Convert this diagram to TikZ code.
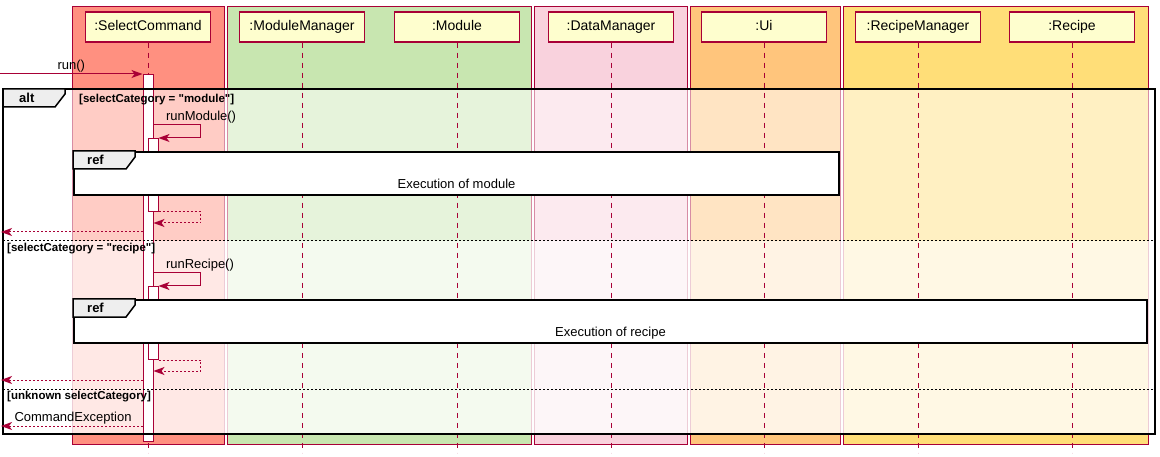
\documentclass[tikz,border=0pt]{standalone}
\usepackage{fontspec}
\setmainfont{Liberation Sans}
\usetikzlibrary{arrows.meta}

\definecolor{umlred}{HTML}{A80036}
\definecolor{umlyellow}{HTML}{FEFECE}
\definecolor{boxA}{HTML}{FF9080}
\definecolor{boxB}{HTML}{C8E6B0}
\definecolor{boxC}{HTML}{F9D2DD}
\definecolor{boxD}{HTML}{FFC57C}
\definecolor{boxE}{HTML}{FFDE78}
\definecolor{tabgray}{HTML}{EEEEEE}

\begin{document}
\begin{tikzpicture}[x=1pt,y=-1pt,>={Stealth[length=11pt,width=8pt,inset=3pt]},
	part/.style={
		draw=umlred, % participant heads
		fill=umlyellow,
		line width=1.5pt,
		minimum width=125pt,
		minimum height=30pt,
		inner sep=0pt,
		text height=10pt,
		text depth=3pt,
		font=\fontsize{14}{16}\selectfont,
	},
	lane/.style={draw=umlred,line width=0.8pt},
	life/.style={draw=umlred,line width=1pt,dash pattern=on 5pt off 5pt},
	act/.style={draw=umlred,fill=white,line width=1pt,minimum width=10pt,inner sep=0pt,anchor=north},
	msg/.style={->,draw=umlred,line width=1pt},
	ret/.style={msg,dash pattern=on 2pt off 2pt},
	lbl/.style={font=\fontsize{13}{15}\selectfont,inner sep=1pt},
	hdr/.style={font=\bfseries\fontsize{11.5}{13}\selectfont,inner sep=0pt},
	tabtxt/.style={font=\bfseries\fontsize{13}{15}\selectfont,inner sep=0pt,anchor=west},
	frame/.style={draw=black,line width=2pt},
	tab/.style={draw=black,fill=tabgray,line width=1.5pt,line join=miter},
	refbox/.style={draw=black,fill=white,line width=2pt,anchor=north west,inner sep=0pt},
	elseline/.style={draw=black,line width=1pt,dash pattern=on 2pt off 2pt},
]
	\useasboundingbox (0,0) rectangle (1160,457);

	% coloured boxes
	\foreach \a/\b/\c in {72/224/boxA,227/531/boxB,534/687/boxC,690/840/boxD,843/1148/boxE}{
		\draw[lane,fill=\c] (\a,6) rectangle (\b,444);
	}

	\coordinate (alttop) at (3,89);
	\coordinate (e1) at (3,241);
	\coordinate (e2) at (3,389);
	\coordinate (altend) at (1155,434);
	\fill[white,opacity=.55] (alttop) rectangle (altend |- e1);
	\fill[white,opacity=.8] (e1) rectangle (altend);

	% participants and lifelines
	\foreach \n/\x/\t in {sc/148/SelectCommand,mm/302/ModuleManager,mod/457/Module,
		dm/611/DataManager,ui/764/Ui,rm/918/RecipeManager,rec/1072/Recipe}{
		\node[part] (\n) at (\x,27) {:\t};
		\draw[life] (\n.south) -- ++(0,410);
	}

	\node[act,minimum height=367pt] (a0) at (148,74) {};
	\node[act,minimum height=73pt] (a1) at (153,138) {};
	\node[act,minimum height=73pt] (a2) at (153,286) {};

	% ref frames
	\node[refbox,minimum width=765pt,minimum height=43pt] (ref1) at (73,151) {};
	\node[refbox,minimum width=1073pt,minimum height=43pt] (ref2) at (73,299) {};
	\foreach \r/\t in {ref1/Execution of module,ref2/Execution of recipe}{
		\draw[tab] (\r.north west) -- ++(62,0) -- ++(0,6) -- ++(-9,12) -- ++(-53,0) -- cycle;
		\node[tabtxt] at ([xshift=14pt,yshift=-9pt]\r.north west) {ref};
		\node[lbl,anchor=base] at ([yshift=7pt]\r.south) {\t};
	}

	% alt frame
	\draw[frame] (alttop) rectangle (altend);
	\draw[tab] (alttop) -- ++(62,0) -- ++(0,5) -- ++(-10,13) -- ++(-52,0) -- cycle;
	\node[tabtxt] at ([xshift=16pt,yshift=-9pt]alttop) {alt};
	\node[hdr,anchor=west] at ([xshift=76pt,yshift=-11pt]alttop)
		{[selectCategory = \textquotedbl module\textquotedbl]};
	\draw[elseline] (e1) -- (altend |- e1);
	\node[hdr,anchor=north west] at ([xshift=4pt,yshift=-2pt]e1)
		{[selectCategory = \textquotedbl recipe\textquotedbl]};
	\draw[elseline] (e2) -- (altend |- e2);
	\node[hdr,anchor=north west] at ([xshift=4pt,yshift=-2pt]e2) {[unknown selectCategory]};

	% messages
	\coordinate (in) at (0,74);
	\coordinate (out1) at (1,232);
	\coordinate (out2) at (1,380);
	\coordinate (out3) at (1,426);
	\draw[msg] (in) -- node[lbl,above] {run()} (a0.north west);

	\draw[msg] (a0.east |- 0,125) node[lbl,anchor=south west,xshift=11pt] {runModule()}
		-- ++(47,0) |- (a1.north east);
	\draw[ret] (a1.south east) -- ++(42,0) |- (a0.east |- 0,223);
	\draw[ret] (a0.west |- out1) -- (out1);

	\draw[msg] (a0.east |- 0,273) node[lbl,anchor=south west,xshift=11pt] {runRecipe()}
		-- ++(47,0) |- (a2.north east);
	\draw[ret] (a2.south east) -- ++(42,0) |- (a0.east |- 0,371);
	\draw[ret] (a0.west |- out2) -- (out2);

	\draw[ret] (a0.west |- out3) -- node[lbl,pos=1,anchor=south west,xshift=12pt] {CommandException} (out3);
\end{tikzpicture}
\end{document}
